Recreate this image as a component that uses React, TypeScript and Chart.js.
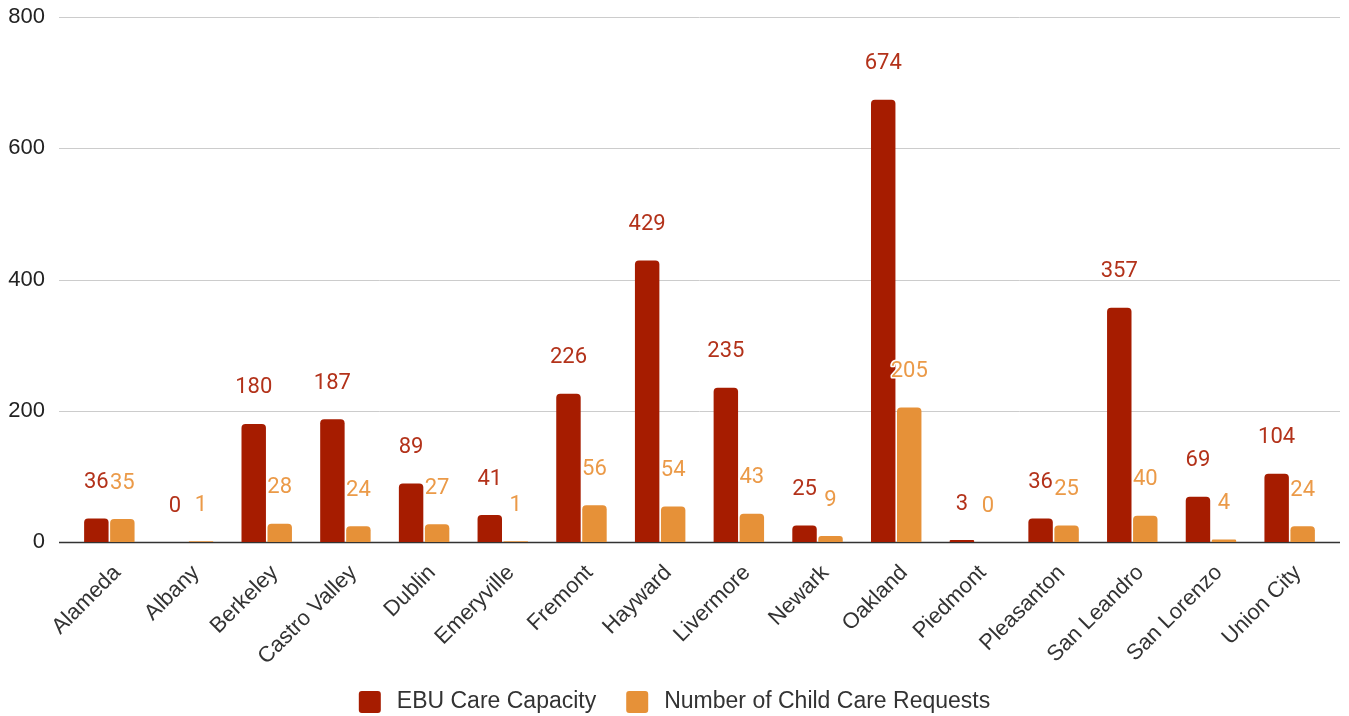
import React, { useEffect, useRef } from "react";
import { Chart, registerables } from "chart.js";

Chart.register(...registerables);

const categories = [
  "Alameda", "Albany", "Berkeley", "Castro Valley", "Dublin", "Emeryville",
  "Fremont", "Hayward", "Livermore", "Newark", "Oakland", "Piedmont",
  "Pleasanton", "San Leandro", "San Lorenzo", "Union City",
];
const ebuCapacity = [36, 0, 180, 187, 89, 41, 226, 429, 235, 25, 674, 3, 36, 357, 69, 104];
const childCareRequests = [35, 1, 28, 24, 27, 1, 56, 54, 43, 9, 205, 0, 25, 40, 4, 24];
const seriesNames = ["EBU Care Capacity", "Number of Child Care Requests"];
const yTicks = [0, 200, 400, 600, 800];

const RED = "#a61c00";
const ORANGE = "#e69138";
const FONT = "Liberation Sans, Arial, sans-serif";

const gridPlugin = {
  id: "extendedGrid",
  beforeDatasetsDraw(chart: any) {
    const ctx = chart.ctx;
    const y = chart.scales.y;
    const { left, right } = chart.chartArea;
    ctx.save();
    y.ticks.forEach((t: any) => {
      const py = Math.round(y.getPixelForValue(t.value)) + 0.5;
      ctx.beginPath();
      if (t.value === 0) {
        ctx.strokeStyle = "#333333";
        ctx.lineWidth = 1.5;
      } else {
        ctx.strokeStyle = "#cccccc";
        ctx.lineWidth = 1;
      }
      ctx.moveTo(left - 11, py);
      ctx.lineTo(right + 11, py);
      ctx.stroke();
    });
    ctx.restore();
  },
};

const dataLabelPlugin = {
  id: "dataLabels",
  afterDatasetsDraw(chart: any) {
    const ctx = chart.ctx;
    ctx.save();
    ctx.font = "22px Roboto";
    ctx.textAlign = "center";
    ctx.textBaseline = "middle";
    ctx.lineJoin = "round";
    chart.data.datasets.forEach((ds: any, di: number) => {
      const meta = chart.getDatasetMeta(di);
      meta.data.forEach((bar: any, i: number) => {
        const txt = String(ds.data[i]);
        const x = bar.x;
        const y = bar.y - 36;
        ctx.lineWidth = 3;
        ctx.strokeStyle = "#ffffff";
        ctx.strokeText(txt, x, y);
        ctx.fillStyle = ds.labelColor;
        ctx.fillText(txt, x, y);
      });
    });
    ctx.restore();
  },
};

const legendPlugin = {
  id: "customLegend",
  afterDraw(chart: any) {
    const ctx = chart.ctx;
    const box = 22;
    const textGap = 16;
    const itemGap = 30;
    const cy = 702;
    ctx.save();
    ctx.font = `23px ${FONT}`;
    const items = chart.data.datasets.map((ds: any) => ({
      text: ds.label,
      color: ds.backgroundColor,
      w: ctx.measureText(ds.label).width,
    }));
    const total = items.reduce((s: number, it: any, i: number) =>
      s + box + textGap + it.w + (i > 0 ? itemGap : 0), 0);
    let x = chart.width / 2 - total / 2;
    items.forEach((it: any, i: number) => {
      if (i > 0) x += itemGap;
      ctx.fillStyle = it.color;
      ctx.beginPath();
      (ctx as any).roundRect(x, cy - box / 2, box, box, 3);
      ctx.fill();
      x += box + textGap;
      ctx.fillStyle = "#333333";
      ctx.textBaseline = "middle";
      ctx.textAlign = "left";
      ctx.fillText(it.text, x, cy);
      x += it.w;
    });
    ctx.restore();
  },
};

export default function App() {
  const ref = useRef<HTMLCanvasElement | null>(null);
  useEffect(() => {
    document.body.style.margin = "0";
    if (!ref.current) return;
    const chart = new Chart(ref.current, {
      type: "bar",
      data: {
        labels: categories,
        datasets: [
          {
            label: seriesNames[0],
            data: ebuCapacity,
            backgroundColor: RED,
            borderRadius: { topLeft: 4, topRight: 4, bottomLeft: 0, bottomRight: 0 },
            borderSkipped: false,
            barPercentage: 0.94,
            categoryPercentage: 0.661,
            labelColor: "#b3321a",
          } as any,
          {
            label: seriesNames[1],
            data: childCareRequests,
            backgroundColor: ORANGE,
            borderRadius: { topLeft: 4, topRight: 4, bottomLeft: 0, bottomRight: 0 },
            borderSkipped: false,
            barPercentage: 0.94,
            categoryPercentage: 0.661,
            labelColor: "#eb9a48",
          } as any,
        ],
      },
      options: {
        animation: false,
        responsive: false,
        maintainAspectRatio: false,
        devicePixelRatio: 1,
        layout: { padding: { top: 17, right: 20, left: 0, bottom: 0 } },
        plugins: {
          tooltip: { enabled: false },
          legend: { display: false },
        },
        scales: {
          x: {
            grid: { display: false, drawTicks: false },
            border: { display: false },
            ticks: {
              maxRotation: 45,
              minRotation: 45,
              autoSkip: false,
              padding: 18,
              labelOffset: 8,
              color: "#333",
              font: { family: FONT, size: 22 },
            },
            afterFit(scale: any) {
              scale.height = 174;
              scale.paddingLeft = 0;
              scale.paddingRight = 0;
            },
          },
          y: {
            min: 0,
            max: 800,
            afterBuildTicks(scale: any) {
              scale.ticks = yTicks.map((v) => ({ value: v }));
            },
            grid: { display: false, drawTicks: false },
            border: { display: false },
            ticks: {
              padding: 25,
              color: "#222",
              font: { family: FONT, size: 22 },
            },
            afterFit(scale: any) {
              scale.width = 70;
              scale.paddingTop = 0;
              scale.paddingBottom = 0;
            },
          },
        },
      },
      plugins: [gridPlugin, dataLabelPlugin, legendPlugin],
    });
    return () => chart.destroy();
  }, []);
  return (
    <div style={{ position: "absolute", left: 0, top: 0, width: 1349, height: 716 }}>
      <canvas ref={ref} width={1349} height={716} style={{ width: 1349, height: 716 }} />
    </div>
  );
}
